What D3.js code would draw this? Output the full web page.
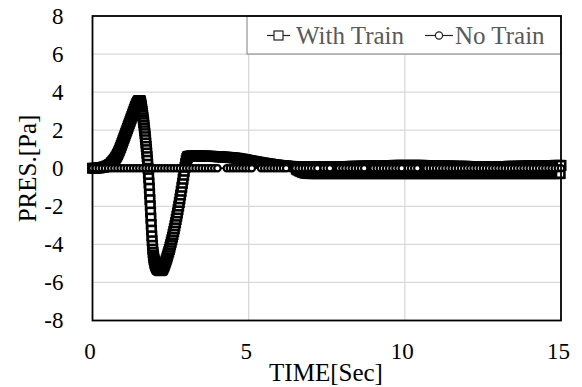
<!DOCTYPE html>
<html>
<head>
<meta charset="utf-8">
<script src="https://cdn.jsdelivr.net/npm/d3@7"></script>
<style>
  body { margin: 0; background: #fff; }
  svg { display: block; }
  text { font-family: 'Liberation Serif', 'Times New Roman', serif; }
</style>
</head>
<body>
<div id="chart"></div>
<script>
// ---- data ----
const xTicks = [0, 5, 10, 15];
const yTicks = [-8, -6, -4, -2, 0, 2, 4, 6, 8];

// With Train, sampled in stretches (start time, time step, values)
const trainStartA = 0, trainStepA = 0.05;
const trainPresA = [0, 0, 0, 0.01, 0.02, 0.03, 0.04, 0.06, 0.08, 0.11, 0.15, 0.2, 0.27];

const trainStartB = 0.62, trainStepB = 0.02;
const trainPresB = [
  0.3, 0.33, 0.37, 0.41, 0.45, 0.5, 0.55, 0.6, 0.66, 0.72,
  0.79, 0.86, 0.94, 1.02, 1.1, 1.19, 1.28, 1.37, 1.46, 1.55,
  1.64, 1.73, 1.82, 1.91, 2.0, 2.09, 2.18, 2.27, 2.36, 2.45,
  2.54, 2.63, 2.72, 2.81, 2.9, 2.99, 3.08, 3.17, 3.25, 3.33,
  3.4, 3.46, 3.51, 3.54];

const trainStartD = 1.49, trainStepD = 0.01;
const trainPresD = [
  3.55, 3.55, 3.56, 3.55, 3.51, 3.45, 3.38, 3.3, 3.21, 3.1,
  2.99, 2.88, 2.77, 2.65, 2.53, 2.4, 2.26, 2.12, 1.97, 1.82,
  1.66, 1.5, 1.33, 1.15, 0.98, 0.8, 0.61, 0.42, 0.21, 0.0,
  -0.24, -0.5, -0.77, -1.05, -1.35, -1.65, -1.97, -2.3, -2.62, -2.95,
  -3.25, -3.55, -3.81, -4.05, -4.25, -4.42, -4.56, -4.68, -4.78, -4.86,
  -4.93, -5.0, -5.05, -5.1, -5.14, -5.18, -5.21, -5.24, -5.27, -5.29,
  -5.31, -5.32];

const trainStartE = 2.12, trainStepE = 0.02;
const trainPresE = [
  -5.35, -5.37, -5.38, -5.38, -5.37, -5.35,
  -5.31, -5.25, -5.18, -5.1, -5.01, -4.92, -4.82, -4.72, -4.61, -4.5,
  -4.39, -4.27, -4.15, -4.02, -3.89, -3.76, -3.62, -3.48, -3.33, -3.18,
  -3.02, -2.86, -2.69, -2.52, -2.35, -2.17, -1.99, -1.8, -1.61, -1.41,
  -1.21, -1.0, -0.79, -0.58, -0.37, -0.16, 0.05, 0.24, 0.4, 0.51,
  0.58, 0.61, 0.62, 0.63];

const trainStartC = 3.15, trainStepC = 0.05;
const trainPresC = [
  0.65, 0.65, 0.65, 0.65, 0.65, 0.65, 0.65, 0.64, 0.64, 0.64, 0.64, 0.63, 0.63, 0.63, 0.62, 0.62, 0.61, 0.61, 0.6, 0.6,
  0.59, 0.59, 0.58, 0.58, 0.57, 0.56, 0.56, 0.55, 0.54, 0.53, 0.52, 0.51, 0.49, 0.48, 0.46, 0.45, 0.43, 0.41, 0.4, 0.38,
  0.37, 0.35, 0.34, 0.32, 0.31, 0.29, 0.28, 0.27, 0.25, 0.24, 0.23, 0.22, 0.2, 0.19, 0.18, 0.17, 0.16, 0.15, 0.14, 0.13,
  0.12, 0.12, 0.11, 0.1, 0.1, 0.09, 0.08, 0.08];

// tail: fast swing between about -0.28 and +0.1 (the thick band after 6.5 s)
const trainStartF = 6.525, trainStepF = 0.025;
const trainPresF = [
  -0.05, 0.09, -0.1, 0.09, -0.14, 0.09, -0.18, 0.09, -0.21, 0.09, -0.24, 0.09, -0.26, 0.09, -0.27, 0.09, -0.28, 0.09, -0.28, 0.08,
  -0.28, 0.08, -0.28, 0.08, -0.28, 0.07, -0.28, 0.07, -0.28, 0.07, -0.28, 0.07, -0.28, 0.07, -0.28, 0.07, -0.28, 0.07, -0.28, 0.07,
  -0.28, 0.07, -0.28, 0.07, -0.28, 0.07, -0.28, 0.08, -0.28, 0.08, -0.28, 0.08, -0.28, 0.08, -0.28, 0.08, -0.28, 0.09, -0.28, 0.09,
  -0.28, 0.09, -0.28, 0.09, -0.28, 0.09, -0.28, 0.09, -0.28, 0.1, -0.28, 0.1, -0.28, 0.1, -0.28, 0.1, -0.28, 0.1, -0.28, 0.1,
  -0.28, 0.1, -0.28, 0.11, -0.28, 0.11, -0.28, 0.11, -0.28, 0.11, -0.28, 0.12, -0.28, 0.12, -0.28, 0.12, -0.28, 0.12, -0.28, 0.12,
  -0.28, 0.13, -0.28, 0.13, -0.28, 0.13, -0.28, 0.13, -0.28, 0.13, -0.28, 0.14, -0.28, 0.14, -0.28, 0.14, -0.28, 0.14, -0.28, 0.14,
  -0.28, 0.14, -0.28, 0.14, -0.28, 0.15, -0.28, 0.15, -0.28, 0.15, -0.28, 0.15, -0.28, 0.15, -0.28, 0.15, -0.28, 0.15, -0.28, 0.15,
  -0.28, 0.15, -0.28, 0.15, -0.28, 0.15, -0.28, 0.15, -0.28, 0.15, -0.28, 0.15, -0.28, 0.15, -0.28, 0.15, -0.28, 0.15, -0.28, 0.15,
  -0.28, 0.15, -0.28, 0.15, -0.28, 0.14, -0.28, 0.14, -0.28, 0.14, -0.28, 0.14, -0.28, 0.13, -0.28, 0.13, -0.28, 0.13, -0.28, 0.13,
  -0.28, 0.12, -0.28, 0.12, -0.28, 0.12, -0.28, 0.12, -0.28, 0.12, -0.28, 0.11, -0.28, 0.11, -0.28, 0.11, -0.28, 0.11, -0.28, 0.11,
  -0.28, 0.11, -0.28, 0.1, -0.28, 0.1, -0.28, 0.1, -0.28, 0.1, -0.28, 0.1, -0.28, 0.1, -0.28, 0.1, -0.28, 0.1, -0.28, 0.1,
  -0.28, 0.09, -0.28, 0.09, -0.28, 0.09, -0.28, 0.09, -0.28, 0.09, -0.28, 0.09, -0.28, 0.09, -0.28, 0.09, -0.28, 0.09, -0.28, 0.09,
  -0.28, 0.09, -0.28, 0.08, -0.28, 0.08, -0.28, 0.08, -0.28, 0.08, -0.28, 0.08, -0.28, 0.08, -0.28, 0.08, -0.28, 0.09, -0.28, 0.09,
  -0.28, 0.09, -0.28, 0.09, -0.28, 0.09, -0.28, 0.09, -0.28, 0.09, -0.28, 0.1, -0.28, 0.1, -0.28, 0.1, -0.28, 0.1, -0.28, 0.1,
  -0.28, 0.1, -0.28, 0.1, -0.28, 0.1, -0.28, 0.11, -0.28, 0.11, -0.28, 0.11, -0.28, 0.11, -0.28, 0.11, -0.28, 0.12, -0.28, 0.12,
  -0.28, 0.12, -0.28, 0.12, -0.28, 0.12, -0.28, 0.12, -0.28, 0.13, -0.28, 0.13, -0.28, 0.13, -0.28, 0.13, -0.28, 0.13, -0.28, 0.13,
  -0.28, 0.14, -0.28, 0.14, -0.28, 0.14, -0.28, 0.14, -0.28, 0.14, -0.28, 0.15, -0.28, 0.15, -0.28, 0.15, -0.28, 0.15, -0.28, 0.15];

// No Train (sample times, with the gaps where single markers show white)
const noTrainTime = [
  0, 0.1, 0.2, 0.3, 0.4, 0.5, 0.6, 0.7, 0.8, 0.9,
  1, 1.1, 1.2, 1.3, 1.4, 1.5, 1.6, 1.7, 1.8, 1.9,
  2, 2.1, 2.2, 2.3, 2.4, 2.5, 2.6, 2.7, 2.8, 2.9,
  3, 3.1, 3.2, 3.3, 3.4, 3.5, 3.6, 3.7, 3.8, 3.9,
  4, 4.3, 4.4, 4.5, 4.6, 4.7, 4.8, 4.9, 5, 5.1,
  5.4, 5.5, 5.6, 5.7, 5.8, 5.9, 6, 6.1, 6.2, 6.5,
  6.6, 6.7, 6.8, 6.9, 7, 7.1, 7.2, 7.4, 7.5, 7.6,
  7.9, 8, 8.1, 8.2, 8.3, 8.4, 8.5, 8.6, 8.7, 9,
  9.1, 9.2, 9.3, 9.4, 9.5, 9.6, 9.7, 9.8, 9.9, 10.1,
  10.2, 10.3, 10.4, 10.7, 10.8, 10.9, 11, 11.1, 11.2, 11.3,
  11.4, 11.5, 11.6, 11.7, 11.8, 11.9, 12, 12.1, 12.2, 12.3,
  12.4, 12.5, 12.6, 12.7, 12.8, 12.9, 13, 13.1, 13.2, 13.3,
  13.4, 13.5, 13.6, 13.7, 13.8, 13.9, 14, 14.1, 14.2, 14.3,
  14.4, 14.5, 14.6, 14.7, 14.8, 14.9, 15];
const noTrainPres = [
  0, 0, 0, 0, 0, 0, 0, 0, 0, 0,
  0, 0, 0, 0, 0, 0, 0, 0, 0, 0,
  0, 0, 0, 0, 0, 0, 0, 0, 0, 0,
  0, 0, 0, 0, 0, 0, 0, 0, 0, 0,
  0, 0, 0, 0, 0, 0, 0, 0, 0, 0,
  0, 0, 0, 0, 0, 0, 0, 0, 0, 0,
  0, 0, 0, 0, 0, 0, 0, 0, 0, 0,
  0, 0, 0, 0, 0, 0, 0, 0, 0, 0,
  0, 0, 0, 0, 0, 0, 0, 0, 0, 0,
  0, 0, 0, 0, 0, 0, 0, 0, 0, 0,
  0, 0, 0, 0, 0, 0, 0, 0, 0, 0,
  0, 0, 0, 0, 0, 0, 0, 0, 0, 0,
  0, 0, 0, 0, 0, 0, 0, 0, 0, 0,
  0, 0, 0, 0, 0, 0, 0];

const seriesNames = ['With Train', 'No Train'];

// ---- build point lists ----
function stretch(start, step, vals) {
  return vals.map((v, i) => ({ t: +(start + i * step).toFixed(3), v: v }));
}
const withTrain = stretch(trainStartA, trainStepA, trainPresA)
  .concat(stretch(trainStartB, trainStepB, trainPresB))
  .concat(stretch(trainStartD, trainStepD, trainPresD))
  .concat(stretch(trainStartE, trainStepE, trainPresE))
  .concat(stretch(trainStartC, trainStepC, trainPresC))
  .concat(stretch(trainStartF, trainStepF, trainPresF));
const noTrain = noTrainTime.map((t, i) => ({ t: t, v: noTrainPres[i] }));

// ---- layout ----
const width = 582, height = 387;
const plot = { left: 92.5, right: 561, top: 16, bottom: 320.5 };
const serif = "'Liberation Serif', 'Times New Roman', serif";

const svg = d3.select('#chart').append('svg')
  .attr('width', width)
  .attr('height', height);

const x = d3.scaleLinear().domain([0, 15]).range([plot.left, plot.right]);
const y = d3.scaleLinear().domain([-8, 8]).range([plot.bottom, plot.top]);

/* ---------- grid ---------- */
const grid = svg.append('g').attr('class', 'grid')
  .attr('stroke', '#d9d9d9').attr('stroke-width', 1.3);
grid.selectAll('.gy').data(yTicks.slice(1, -1)).enter().append('line')
  .attr('x1', plot.left).attr('x2', plot.right)
  .attr('y1', d => y(d)).attr('y2', d => y(d));
grid.selectAll('.gx').data(xTicks.slice(1, -1)).enter().append('line')
  .attr('y1', plot.top).attr('y2', plot.bottom)
  .attr('x1', d => x(d)).attr('x2', d => x(d));

/* ---------- axes ---------- */
const yAxis = svg.append('g')
  .attr('transform', 'translate(' + plot.left + ',0)')
  .call(d3.axisLeft(y).tickValues(yTicks).tickSize(0).tickPadding(29).tickFormat(d => String(d)))
  .attr('font-family', serif).attr('font-size', 23);
yAxis.select('.domain').remove();
yAxis.selectAll('text').attr('fill', '#000');

const xAxis = svg.append('g')
  .attr('transform', 'translate(0,' + plot.bottom + ')')
  .call(d3.axisBottom(x).tickValues(xTicks).tickSize(0).tickPadding(22).tickFormat(d => String(d)))
  .attr('font-family', serif).attr('font-size', 23);
xAxis.select('.domain').remove();
xAxis.selectAll('text').attr('fill', '#000').attr('dx', -3);

/* ---------- series ---------- */
const line = d3.line().x(d => x(d.t)).y(d => y(d.v));
const sq = 8.4;

const g1 = svg.append('g').attr('class', 'with-train');
g1.append('path').datum(withTrain)
  .attr('d', line).attr('fill', 'none')
  .attr('stroke', '#000').attr('stroke-width', 1.5);
g1.selectAll('rect').data(withTrain).enter().append('rect')
  .attr('x', d => x(d.t) - sq / 2).attr('y', d => y(d.v) - sq / 2)
  .attr('width', sq).attr('height', sq)
  .attr('fill', '#fff').attr('stroke', '#000').attr('stroke-width', 2.6);

const g2 = svg.append('g').attr('class', 'no-train');
g2.append('path').datum(noTrain)
  .attr('d', line).attr('fill', 'none')
  .attr('stroke', '#000').attr('stroke-width', 1.5);
g2.selectAll('circle').data(noTrain).enter().append('circle')
  .attr('cx', d => x(d.t)).attr('cy', d => y(d.v)).attr('r', 3.2)
  .attr('fill', '#fff').attr('stroke', '#000').attr('stroke-width', 2.2);

/* ---------- legend ---------- */
const leg = svg.append('g').attr('class', 'legend');
leg.append('rect')
  .attr('x', 247).attr('y', plot.top).attr('width', plot.right - 247).attr('height', 38)
  .attr('fill', '#fff').attr('stroke', '#7f7f7f').attr('stroke-width', 1);

leg.append('line').attr('x1', 267).attr('x2', 290).attr('y1', 35.5).attr('y2', 35.5)
  .attr('stroke', '#222').attr('stroke-width', 1.2);
leg.append('rect').attr('x', 278.5 - 4.5).attr('y', 31).attr('width', 9).attr('height', 9)
  .attr('fill', '#fff').attr('stroke', '#222').attr('stroke-width', 1.2);
leg.append('text').attr('x', 296).attr('y', 43.5).attr('font-size', 25)
  .attr('font-family', serif).attr('fill', '#595959').text(seriesNames[0]);

leg.append('line').attr('x1', 425).attr('x2', 453).attr('y1', 35.5).attr('y2', 35.5)
  .attr('stroke', '#222').attr('stroke-width', 1.2);
leg.append('circle').attr('cx', 439).attr('cy', 35.5).attr('r', 3.6)
  .attr('fill', '#fff').attr('stroke', '#222').attr('stroke-width', 1.2);
leg.append('text').attr('x', 455).attr('y', 43.5).attr('font-size', 25)
  .attr('font-family', serif).attr('fill', '#595959').text(seriesNames[1]);

/* ---------- plot border ---------- */
svg.append('rect')
  .attr('x', plot.left).attr('y', plot.top)
  .attr('width', plot.right - plot.left).attr('height', plot.bottom - plot.top)
  .attr('fill', 'none').attr('stroke', '#000').attr('stroke-width', 1.8);

/* ---------- axis titles ---------- */
svg.append('text')
  .attr('x', 326).attr('y', 381).attr('text-anchor', 'middle')
  .attr('font-family', serif).attr('font-size', 25).attr('fill', '#000').text('TIME[Sec]');
svg.append('text')
  .attr('transform', 'translate(35.5,168.5) rotate(-90)')
  .attr('text-anchor', 'middle')
  .attr('font-family', serif).attr('font-size', 25).attr('fill', '#000').text('PRES.[Pa]');
</script>
</body>
</html>
